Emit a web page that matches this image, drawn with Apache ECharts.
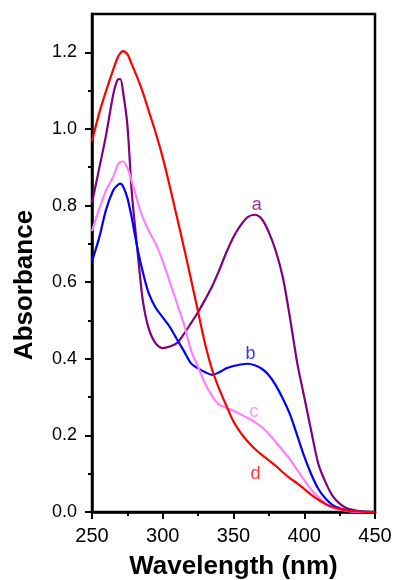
<!DOCTYPE html>
<html>
<head>
<meta charset="utf-8">
<script src="https://cdn.jsdelivr.net/npm/echarts@6/dist/echarts.min.js"></script>
<style>
html,body{margin:0;padding:0;background:#fff;}
#chart{width:394px;height:580px;}
</style>
</head>
<body>
<div id="chart"></div>
<script>
// Wavelength grid (nm)
var wavelengths = [250,255,260,265,268,270,272,275,278,280,283,286,290,295,300,305,310,315,320,325,330,335,340,345,350,355,360,365,370,375,380,385,390,395,400,405,410,415,420,425,430,435,440,445,450];

// Absorbance curves
var curveA = [0.807,0.895,0.985,1.09,1.128,1.13,1.095,1.01,0.84,0.76,0.65,0.55,0.48,0.44,0.428,0.432,0.441,0.465,0.493,0.522,0.555,0.59,0.632,0.678,0.718,0.748,0.77,0.776,0.765,0.73,0.68,0.61,0.505,0.39,0.30,0.21,0.125,0.078,0.042,0.022,0.01,0.005,0.002,0.001,0.0];
var curveB = [0.655,0.715,0.79,0.84,0.853,0.857,0.85,0.82,0.77,0.73,0.673,0.625,0.572,0.533,0.508,0.483,0.451,0.42,0.388,0.375,0.365,0.358,0.365,0.375,0.381,0.385,0.387,0.383,0.374,0.357,0.33,0.295,0.254,0.2,0.145,0.098,0.06,0.035,0.018,0.01,0.005,0.002,0.001,0.0,0.0];
var curveC = [0.733,0.79,0.84,0.875,0.905,0.914,0.915,0.898,0.865,0.84,0.8,0.768,0.735,0.70,0.655,0.6,0.545,0.49,0.422,0.378,0.335,0.302,0.28,0.272,0.264,0.255,0.246,0.235,0.222,0.203,0.182,0.16,0.137,0.11,0.083,0.058,0.039,0.022,0.012,0.006,0.003,0.001,0.0,0.0,0.0];
var curveD = [0.968,1.04,1.10,1.155,1.185,1.198,1.203,1.195,1.17,1.152,1.125,1.095,1.048,0.99,0.925,0.85,0.77,0.69,0.607,0.522,0.438,0.37,0.32,0.277,0.236,0.207,0.184,0.165,0.149,0.135,0.12,0.103,0.088,0.075,0.06,0.045,0.032,0.021,0.013,0.008,0.004,0.002,0.001,0.0,0.0];

// Curve labels and where they sit
var labelNames = ['a','b','c','d'];
var labelX = [366.5, 362, 364.5, 365.5];
var labelY = [0.801, 0.413, 0.26, 0.098];

// Tick values
var yMajorTicks = [0.0,0.2,0.4,0.6,0.8,1.0,1.2];
var yMinorTicks = [0.1,0.3,0.5,0.7,0.9,1.1];
var xTicks = [250,300,350,400,450];

var colors = ['#800080','#0000ff','#ff80ff','#ff0000'];
var FONT = '"Liberation Sans", Arial, Helvetica, sans-serif';

function pairs(ys){ return wavelengths.map(function(x,i){ return [x, ys[i]]; }); }
function lineSeries(ys, color){
  return {type:'line', data:pairs(ys), showSymbol:false, symbol:'none', smooth:0.3,
    lineStyle:{color:color, width:2.2}, itemStyle:{color:color}, z:3, animation:false};
}

var chart = echarts.init(document.getElementById('chart'), null, {renderer:'canvas'});
chart.setOption({
  animation:false,
  backgroundColor:'#fff',
  grid:{left:92, right:19, top:14, bottom:68, containLabel:false, outerBoundsMode:'none',
    show:true, borderColor:'#000', borderWidth:2.5, backgroundColor:'transparent'},
  xAxis:{
    type:'value', min:xTicks[0], max:xTicks[xTicks.length-1], interval:50,
    name:'Wavelength (nm)', nameLocation:'middle', nameGap:42,
    nameTextStyle:{fontFamily:FONT, fontWeight:'bold', fontSize:26, color:'#000'},
    axisLine:{show:true, lineStyle:{color:'#000', width:2.5}},
    axisTick:{show:true, inside:false, length:7, lineStyle:{color:'#000', width:2}},
    minorTick:{show:true, splitNumber:2, length:4, lineStyle:{color:'#000', width:2}},
    axisLabel:{fontFamily:FONT, fontSize:20, color:'#000', margin:14},
    splitLine:{show:false}
  },
  yAxis:[{
    type:'value', min:0, max:1.3,
    name:'Absorbance', nameLocation:'middle', nameGap:54,
    nameTextStyle:{fontFamily:FONT, fontWeight:'bold', fontSize:26, color:'#000', padding:[0,44,0,0]},
    axisLine:{show:true, lineStyle:{color:'#000', width:2.5}},
    axisTick:{show:true, inside:false, length:7, customValues:yMajorTicks, lineStyle:{color:'#000', width:2}},
    axisLabel:{fontFamily:FONT, fontSize:18, color:'#000', margin:15, customValues:yMajorTicks,
      formatter:function(v){ return v.toFixed(1); }},
    splitLine:{show:false}
  },{
    type:'value', min:0, max:1.3, position:'left', offset:0,
    axisLine:{show:false},
    axisTick:{show:true, inside:false, length:4, customValues:yMinorTicks, lineStyle:{color:'#000', width:2}},
    axisLabel:{show:false},
    splitLine:{show:false}
  }],
  series:[
    lineSeries(curveA, colors[0]),
    lineSeries(curveB, colors[1]),
    lineSeries(curveC, colors[2]),
    lineSeries(curveD, colors[3]),
    {
      type:'scatter', symbolSize:0, z:5, animation:false,
      data: labelNames.map(function(n,i){
        return {name:n, value:[labelX[i], labelY[i]],
          label:{show:true, position:'inside', formatter:n, color:colors[i], fontFamily:FONT, fontSize:18}};
      })
    }
  ]
});
</script>
</body>
</html>
